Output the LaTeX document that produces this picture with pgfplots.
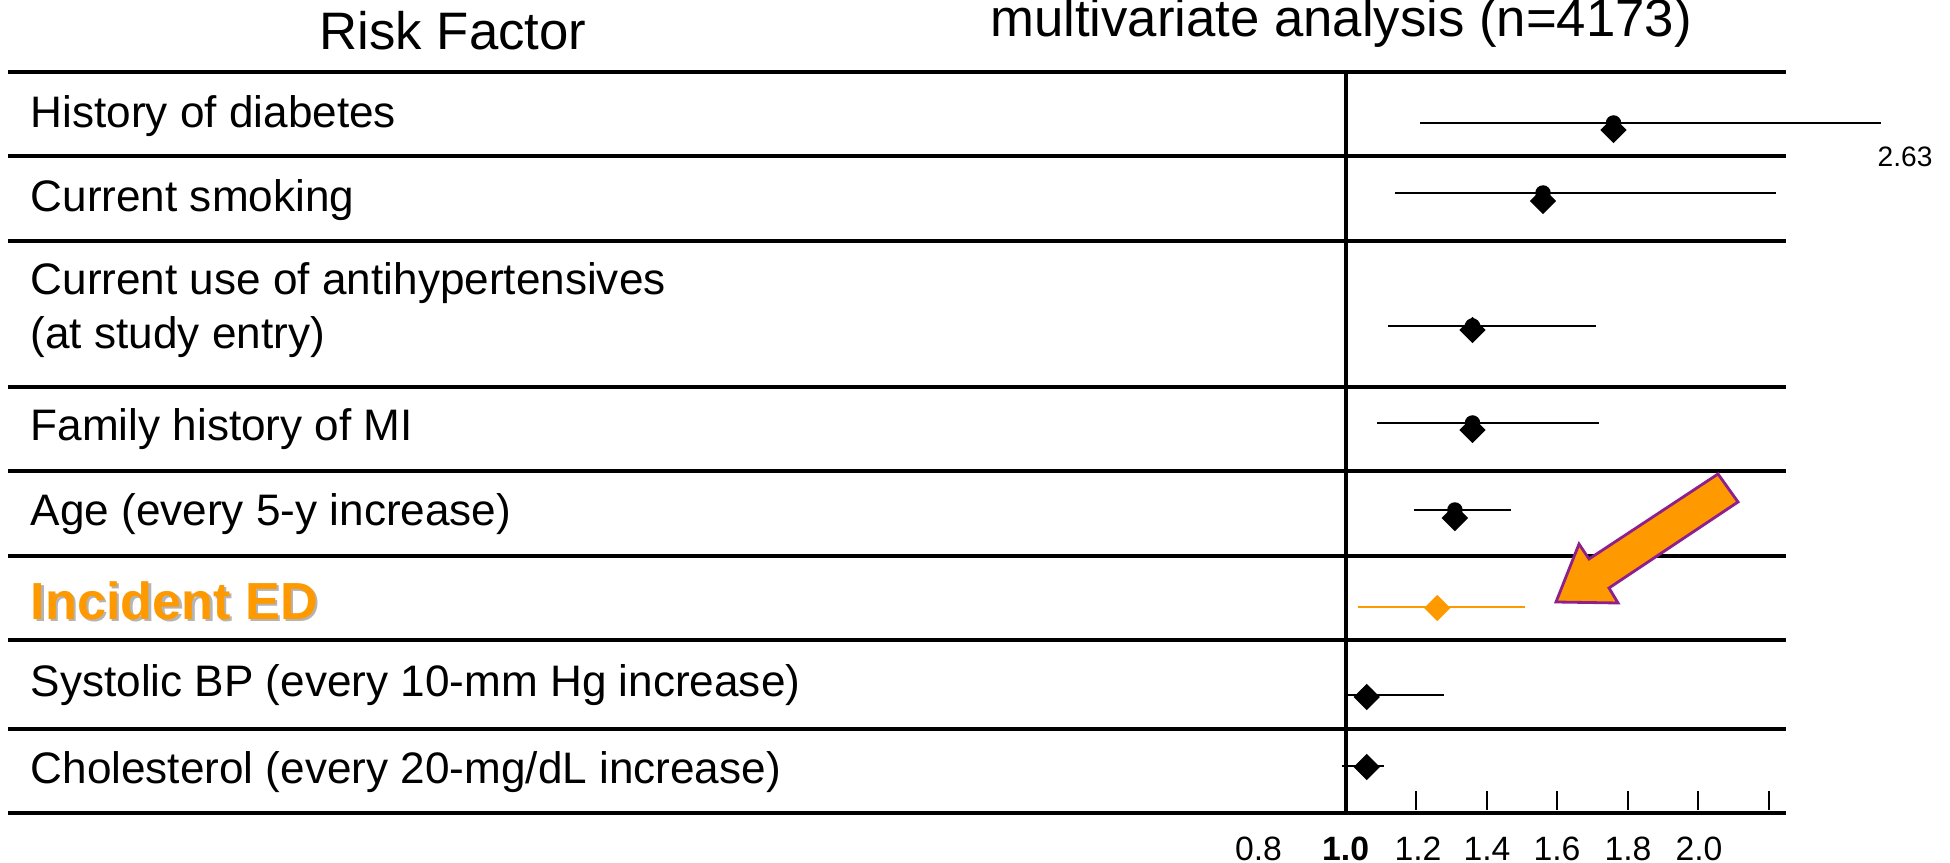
\documentclass[border=0pt]{standalone}
\usepackage{pgfplots}
\pgfplotsset{compat=1.18}
\usepackage{pgfplotstable}
\usepackage{fontspec}
\setmainfont{Liberation Sans}
\definecolor{edorange}{HTML}{FF9900}
\definecolor{arrowpurple}{HTML}{8E1F8C}
\definecolor{shadowgray}{HTML}{B4B4B4}

% hazard ratio, lower CI, upper CI (as drawn), row position of CI line and of marker (pixels from top)
\pgfplotstableread{
hr   lo    hi    yl  yd
1.76 1.21  2.52  123 130
1.56 1.14  2.22  193 201
1.36 1.12  1.71  326 330
1.36 1.09  1.72  423 430
1.31 1.195 1.47  510 518
1.06 1.00  1.28  695 697
1.06 0.99  1.11  766 767
}\blacktbl
\pgfplotstableread{
hr   lo    hi    yl  yd
1.26 1.034 1.51  607 608
}\edtbl

\begin{document}
\begin{tikzpicture}
\useasboundingbox (0,0) rectangle (19.5cm,8.63cm);
\begin{axis}[
  at={(0,0)}, anchor=south west,
  scale only axis, width=19.5cm, height=8.63cm,
  xmin=-2.8173, xmax=2.7146, ymin=0, ymax=863, y dir=reverse,
  hide axis, clip=false,
]
\addplot[only marks, mark=none,
  error bars/.cd, x dir=both, x explicit, error mark=none,
  error bar style={draw=black, solid, line width=0.7pt}]
  table[x=hr, y=yl, x error plus expr=\thisrow{hi}-\thisrow{hr}, x error minus expr=\thisrow{hr}-\thisrow{lo}] {\blacktbl};
\addplot[only marks, mark=square*, mark size=2.45pt,
  mark options={rotate=45, fill=black, draw=black}]
  table[x=hr, y=yd] {\blacktbl};
\addplot[only marks, mark=none,
  error bars/.cd, x dir=both, x explicit, error mark=none,
  error bar style={draw=edorange, solid, line width=0.7pt}]
  table[x=hr, y=yl, x error plus expr=\thisrow{hi}-\thisrow{hr}, x error minus expr=\thisrow{hr}-\thisrow{lo}] {\edtbl};
\addplot[only marks, mark=square*, mark size=2.45pt,
  mark options={rotate=45, fill=edorange, draw=edorange}]
  table[x=hr, y=yd] {\edtbl};
\end{axis}

\begin{scope}[x=0.1mm, y=-0.1mm, yshift=8.63cm, every node/.style={inner sep=0pt}]
  % table rules
  \foreach \yy in {72,156,241,387,471,556,640,729,813}
    \draw[line width=0.9pt] (8,\yy) -- (1786,\yy);
  % reference line at 1.0
  \draw[line width=1.2pt] (1345.6,72) -- (1345.6,813);
  % ticks
  \foreach \xx in {1416.1,1486.6,1557.1,1627.6,1698.1,1768.6}
    \draw[line width=0.6pt] (\xx,791) -- (\xx,810);
  % tick labels
  \foreach \xx/\lab in {1258.5/0.8,1418/1.2,1487/1.4,1557/1.6,1628/1.8,1699/2.0}
    \node[anchor=base, font=\fontsize{9.6}{11}\selectfont] at (\xx,860) {\lab};
  \node[anchor=base, font=\fontsize{9.6}{11}\selectfont\bfseries] at (1345.6,860) {1.0};
  \node[anchor=center, font=\fontsize{8}{10}\selectfont] at (1905,157) {2.63};
  % headers
  \node[anchor=base, font=\fontsize{15}{18}\selectfont] at (453,50) {Risk Factor};
  \node[anchor=base, font=\fontsize{15}{18}\selectfont] at (1341,37) {multivariate analysis (n=4173)};
  % row labels
  \begin{scope}[every node/.append style={anchor=base west, font=\fontsize{12.55}{15}\selectfont}]
    \node at (30,128) {History of diabetes};
    \node at (30,212) {Current smoking};
    \node at (30,295) {Current use of antihypertensives};
    \node at (30,349) {(at study entry)};
    \node at (30,441) {Family history of MI};
    \node at (30,526) {Age (every 5-y increase)};
    \node at (30,696) {Systolic BP (every 10-mm Hg increase)};
    \node at (30,783) {Cholesterol (every 20-mg/dL increase)};
  \end{scope}
  \node[anchor=base west, font=\fontsize{14.85}{18}\selectfont\bfseries, text=shadowgray] at (32.5,621.5) {Incident ED};
  \node[anchor=base west, font=\fontsize{14.85}{18}\selectfont\bfseries, text=edorange] at (30,619) {Incident ED};
  % arrow
  \draw[fill=edorange, draw=arrowpurple, line width=0.8pt, line join=miter]
    (1556,602) -- (1579,544) -- (1589,559) -- (1718,474) -- (1738,502) -- (1609,588) -- (1618,603) -- cycle;
\end{scope}
\end{tikzpicture}
\end{document}
